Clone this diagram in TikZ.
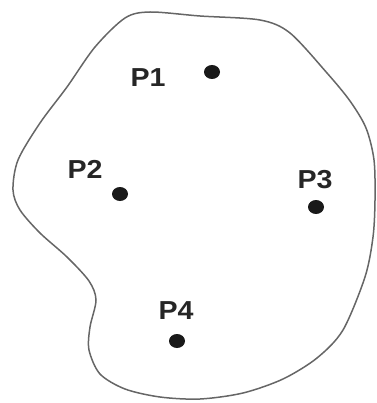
\documentclass[tikz,border=0pt]{standalone}
\usepackage{fontspec}
\setmainfont{Liberation Sans}
\usepackage{tikz}
\usetikzlibrary{shapes.geometric}

\tikzset{
  dot/.style={ellipse, fill=black!90, inner sep=0pt, minimum width=16pt, minimum height=14pt},
  plabel/.style={font=\fontsize{26}{26}\selectfont\bfseries, text=black!85, inner sep=0pt, xscale=1.1}
}

\begin{document}
\begin{tikzpicture}[x=1pt, y=-1pt]
  \useasboundingbox (0,0) rectangle (376,403);
  % region outline
  \draw[black!60, line width=1.5pt] plot[smooth cycle, tension=0.5] coordinates {
    (150,12) (200,16) (260,20) (290,33) (327,73) (350,101) (366,128)
    (374,160) (375,200) (373,237) (365,277) (343,330) (317,358) (283,379)
    (243,393) (200,399) (160,397) (125,389) (100,374) (89,350) (90,327)
    (96,300) (89,281) (67,257) (40,233) (20,210) (13,190) (18,160)
    (40,123) (67,87) (95,47) (125,18)};
  % points
  \node[dot] (p1) at (212,72) {};
  \node[dot] (p2) at (120,194) {};
  \node[dot] (p3) at (316,207) {};
  \node[dot] (p4) at (177,341) {};
  \node[plabel] (l1) at (148,78) {P1};
  \node[plabel] (l2) at (85,169) {P2};
  \node[plabel] (l3) at (315,180) {P3};
  \node[plabel] (l4) at (176,311) {P4};
\end{tikzpicture}
\end{document}
